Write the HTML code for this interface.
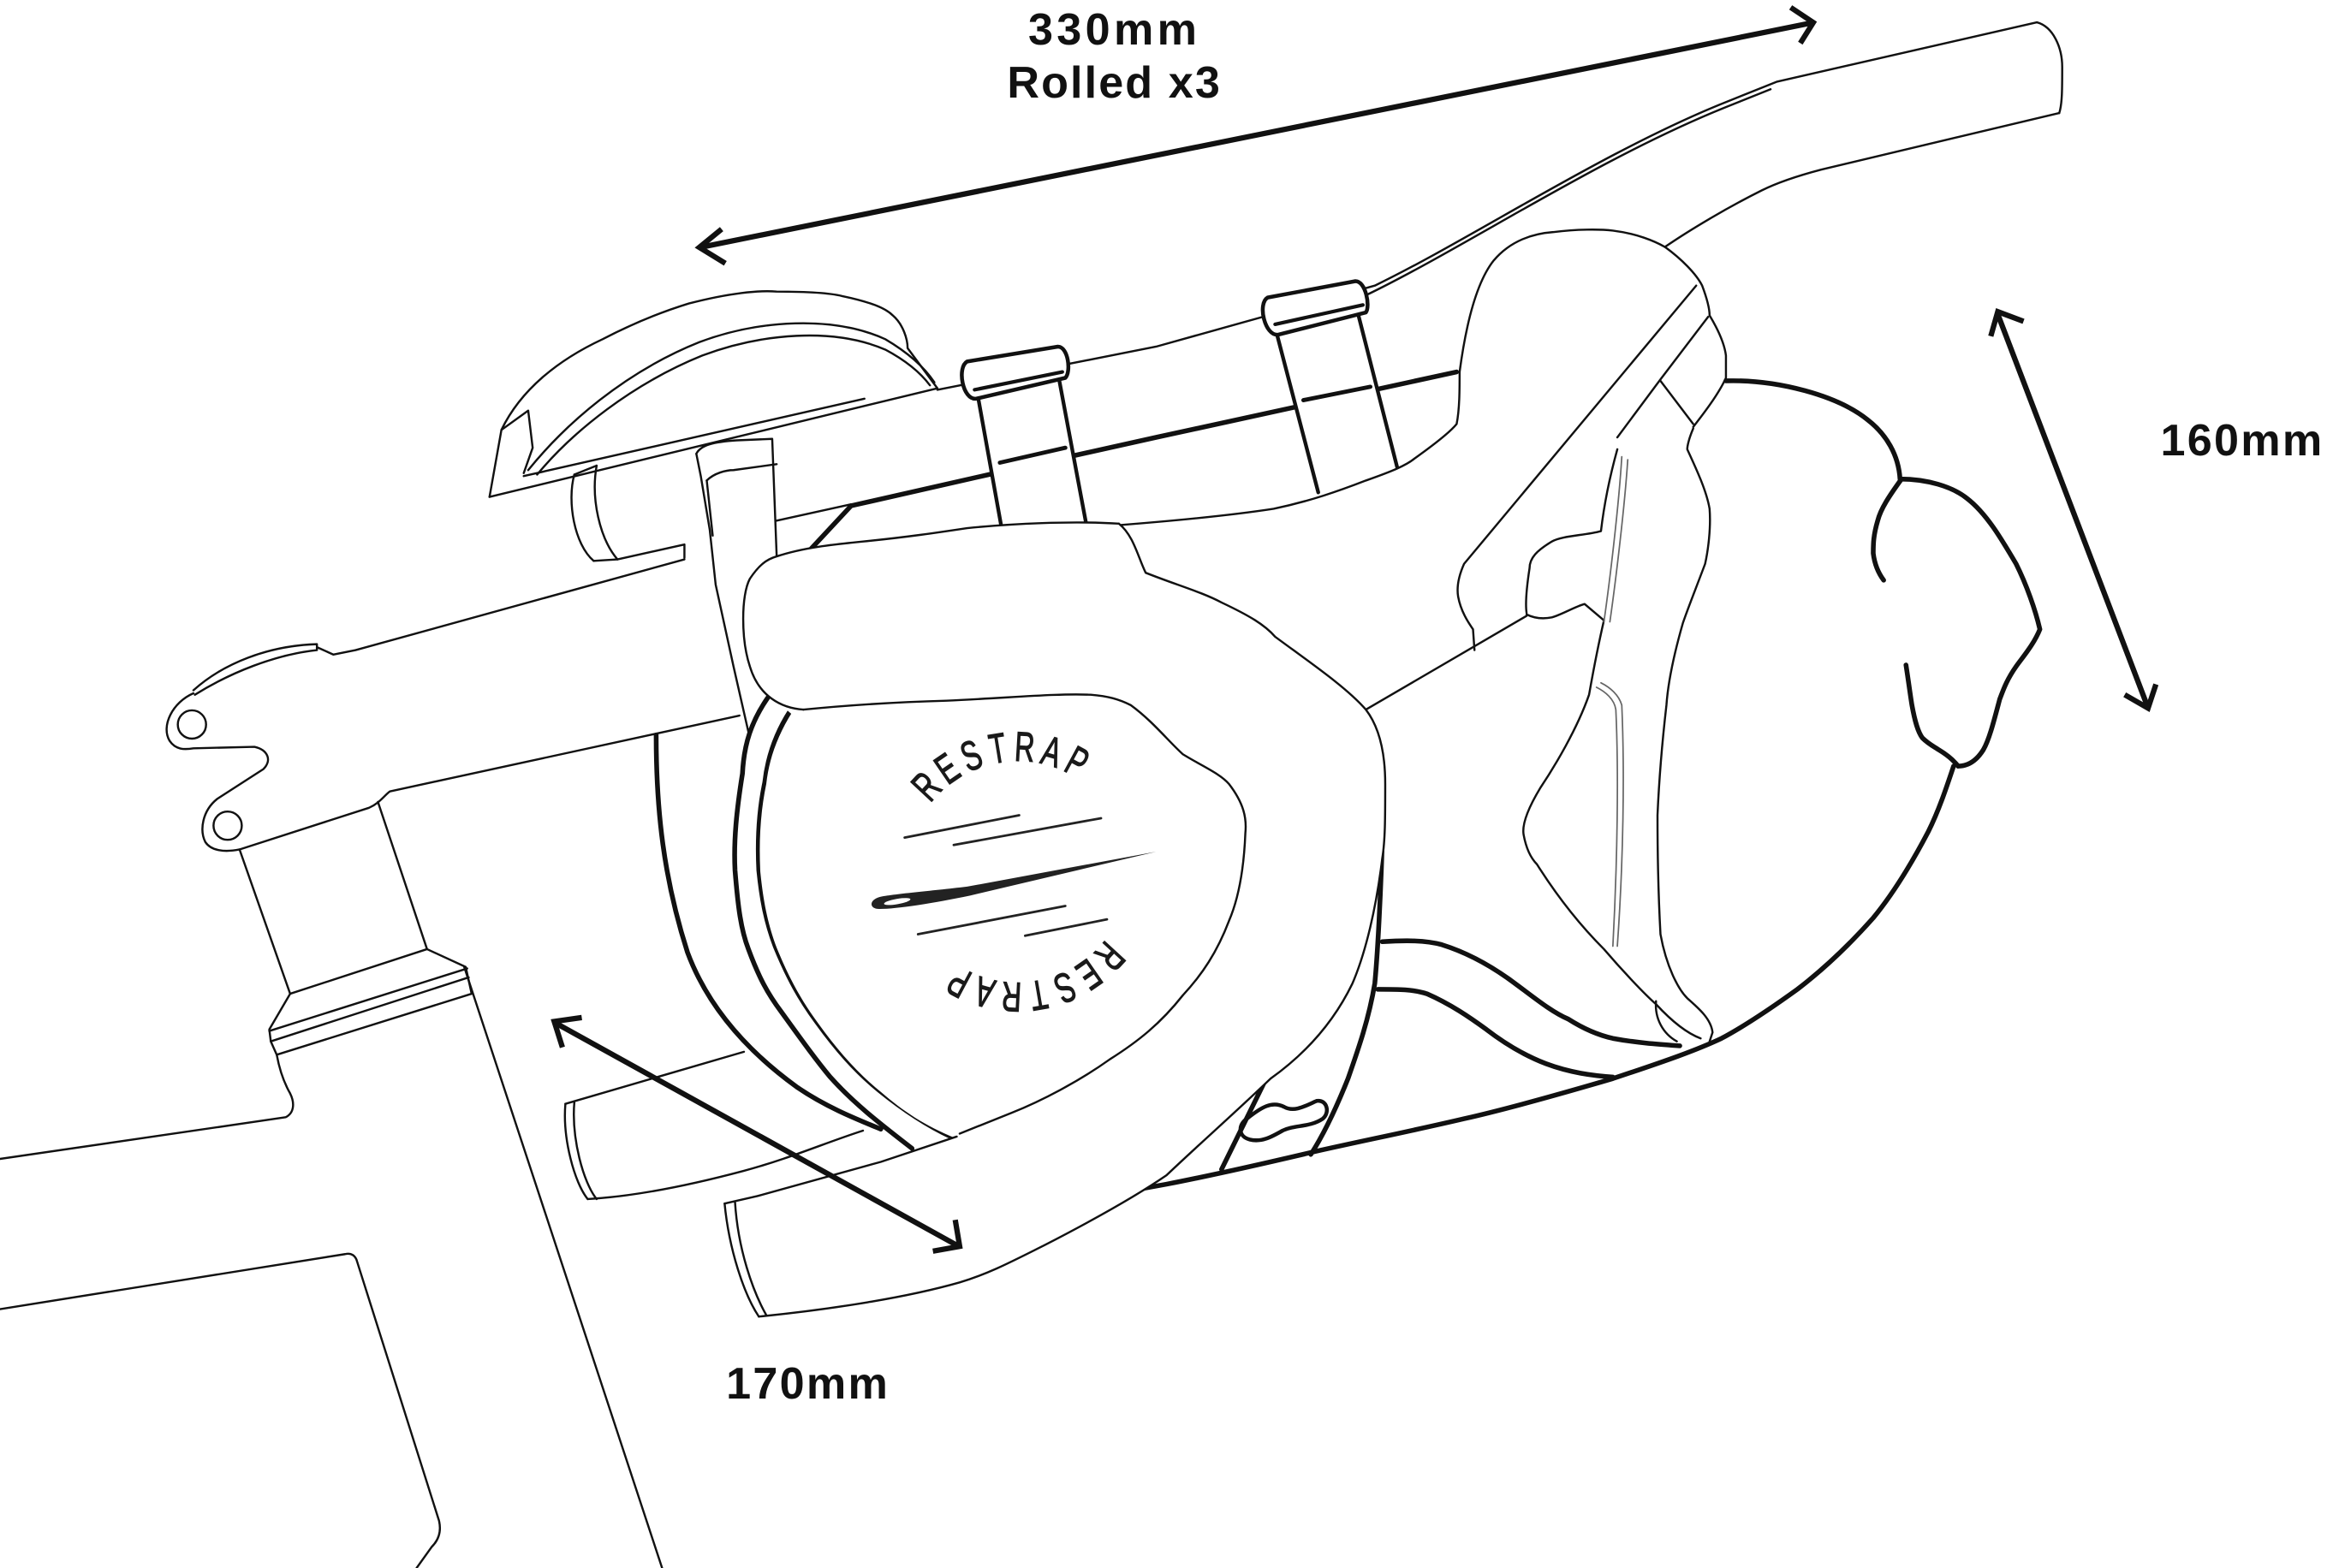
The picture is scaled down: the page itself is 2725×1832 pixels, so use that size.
<!DOCTYPE html>
<html>
<head>
<meta charset="utf-8">
<style>
html,body{margin:0;padding:0;background:#fff;width:2725px;height:1832px;overflow:hidden}
svg{display:block}
</style>
</head>
<body>
<svg width="2725" height="1832" viewBox="0 0 1568 1054" preserveAspectRatio="none" xmlns="http://www.w3.org/2000/svg">
<rect x="0" y="0" width="1568" height="1054" fill="#fff"/>

<g fill="none" stroke="#111" stroke-width="1.4" stroke-linecap="round" stroke-linejoin="round">
  <!-- FRAME -->
  <path d="M0,779 L192,751 C198,748 198,741 195,735 C191,728 188,720 186,709"/>
  <path d="M0,880 L232,843 C236,842 239,844 240,848 L295,1022 C297,1030 294,1036 290,1040 L280,1054"/>
  <path d="M312,650 L445,1054"/>
  <path d="M161,571 L195,668"/>
  <path d="M254,539 L287,638"/>
  <path d="M195,668 L287,638 L313,650 L317,668"/>
  <path d="M195,668 L181,692 L182,700 L186,709"/>
  <path d="M181,693 L314,651"/>
  <path d="M182,700 L315,657"/>
  <path d="M186,709 L317,668"/>

  <!-- STEM -->
  <path d="M130,464 C150,446 180,434 213,433 L213,437 C185,440 155,452 131,467"/>
  <path d="M213,435 L224,440 L239,437 L460,376"/>
  <path d="M130,466 C116,472 108,488 114,498 C118,504 124,504 130,503 L171,502 C180,504 183,511 177,517 L146,537 C136,545 134,558 138,566 C142,572 151,573 161,571 L248,543 C255,540 258,535 262,532 L497,481"/>
  <circle cx="129" cy="487" r="9.5"/>
  <circle cx="153" cy="555" r="9.5"/>

  <!-- LIGHT -->
  <path d="M329,334 L337,289 C350,262 375,242 405,228 C430,215 450,208 463,204 C490,197 510,195 522,196 C545,196 558,197 566,199 C585,203 595,207 600,212 C607,218 610,228 610,234 L630,261"/>
  <path d="M355,316 C380,285 420,250 470,230 C510,215 560,212 595,228 C612,238 622,248 628,257"/>
  <path d="M361,319 C385,290 425,258 472,239 C512,224 560,220 595,235 C610,243 619,251 625,259"/>
  <path d="M337,289 L355,276 L358,301 L352,318"/>
  <path d="M329,334 L630,261"/>
  <path d="M352,320 L581,268"/>

  <!-- HANDLEBAR -->
  <path d="M630,262 L777,233 L924,192 C990,160 1080,100 1164,67 L1194,55 L1369,15"/>
  <path d="M919,198 C985,166 1075,106 1160,72 L1190,60"/>
  <path d="M1369,15 C1380,18 1386,32 1386,45 C1386,60 1386,70 1384,76"/>
  <path d="M1384,76 L1224,114 C1205,119 1192,124 1184,128 C1160,140 1135,155 1119,166"/>
  <path d="M386,319 C381,337 386,366 399,377"/>
  <path d="M386,319 L401,313"/>
  <path d="M401,313 C397,335 403,362 415,376"/>
  <path d="M399,377 L415,376 L460,366 L460,375"/>
  <path d="M522,350 L572,339"/>

  <!-- CLAMP -->
  <path d="M468,305 L471,320 L477,356 L481,393 L493,448 L503,492"/>
  <path d="M468,305 C471,299 480,297 495,296 L519,295 L522,374"/>
  <path d="M475,323 C480,318 488,316 493,316 L522,312"/>
  <path d="M475,323 L479,360"/>

  <!-- bar bottom curve into rear hood -->
  <path d="M752,353 C790,350 830,346 856,342 C880,337 900,330 918,323 C935,317 945,313 951,308 C965,298 975,290 979,285 C981,275 981,262 981,250"/>

  <!-- REAR SHIFTER -->
  <path d="M981,250 C985,220 992,190 1004,175 C1015,162 1030,157 1044,156 C1060,154 1075,154 1084,155 C1100,157 1112,162 1119,166 C1130,174 1140,184 1144,192 C1147,200 1149,207 1149,212 C1155,222 1159,231 1160,239 L1160,254 C1155,265 1145,278 1138,287"/>
  <path d="M1140,192 L984,379 C980,388 979,395 980,401 C982,412 988,420 990,423 L991,437"/>
  <path d="M1148,213 L1116,255 L1087,294"/>
  <path d="M1116,256 L1138,285"/>
  <path d="M1138,288 C1135,295 1134,300 1134,302 C1140,315 1147,330 1149,342 C1150,355 1148,370 1146,379 C1140,395 1134,410 1131,419 C1125,440 1121,460 1120,474 C1117,500 1115,525 1114,548 C1114,580 1115,610 1116,628 C1120,650 1128,665 1134,671 C1142,678 1150,685 1151,694 L1149,700"/>
  <path d="M1113,673 C1112,685 1118,695 1127,700"/>
  <path d="M1087,302 C1082,320 1078,340 1076,357 C1065,360 1050,360 1043,364 C1033,370 1028,375 1028,382 C1026,395 1025,405 1026,412"/>
  <path d="M1026,413 C1032,416 1038,416 1043,415 C1050,413 1058,408 1065,406 L1078,417"/>
  <path d="M918,477 L1026,414"/>
  <path d="M1078,417 C1075,430 1071,450 1068,467 C1060,490 1045,515 1035,530 C1026,545 1023,555 1024,561 C1026,572 1030,578 1033,581 C1045,600 1060,620 1078,638 C1090,652 1105,668 1113,675 C1125,688 1135,695 1143,698"/>
  <g stroke="#666" stroke-width="1">
    <path d="M1094,309 C1092,340 1086,390 1082,418"/>
    <path d="M1090,307 C1088,340 1082,390 1078,418"/>
    <path d="M1076,459 C1082,462 1088,467 1090,474 C1092,520 1091,580 1087,636"/>
    <path d="M1073,462 C1079,465 1085,470 1086,477 C1088,520 1087,580 1084,636"/>
  </g>

  <!-- BAG (thick) -->
  <g stroke-width="3.2">
    <path d="M545,369 L572,340 L669,318 L777,294 L979,250"/>
    <path d="M1160,256 C1195,255 1235,266 1255,282 C1268,292 1276,306 1277,322 C1295,322 1312,327 1322,335 C1335,345 1345,362 1355,379 C1362,393 1368,410 1371,423 C1367,433 1360,441 1355,448 C1348,458 1346,465 1344,470 C1340,485 1337,497 1333,504 C1328,512 1322,515 1316,515"/>
    <path d="M1313,515 C1308,530 1303,545 1296,559 C1285,580 1273,600 1259,617 C1243,635 1225,652 1208,665 C1190,678 1172,690 1157,698 C1140,706 1120,713 1084,725 C1050,735 1015,745 984,752 C950,760 915,767 884,774 C850,782 815,790 784,796 L762,800"/>
    <path d="M1278,322 C1270,333 1264,342 1262,350 C1259,360 1259,366 1259,372 C1260,380 1263,386 1266,390"/>
    <path d="M1281,447 C1283,460 1284,468 1285,474 C1287,485 1289,492 1292,496 C1296,500 1300,502 1303,504 C1308,507 1313,511 1316,515"/>
    <path d="M929,566 C928,600 926,640 924,661 C920,685 913,705 906,725 C898,745 890,762 881,776"/>
    <path d="M929,633 C945,632 958,632 969,635 C985,640 1000,648 1014,658 C1028,668 1042,680 1054,685 C1065,692 1075,696 1084,698 C1100,701 1115,702 1129,703"/>
    <path d="M926,665 C940,665 950,665 959,668 C975,675 988,684 999,692 C1012,702 1026,710 1039,715 C1055,721 1070,723 1084,724"/>
    <path d="M851,725 L821,786"/>
  </g>
  <path stroke-width="2.6" d="M838,752 C848,744 855,740 863,744 C870,748 878,743 885,740 C892,739 894,748 889,752 C880,758 870,756 862,760 C855,764 848,768 840,766 C832,764 832,756 838,752 Z"/>

  <!-- STRAPS -->
  <path fill="#fff" stroke="none" d="M657,265 L712,254 L730,352 L673,354 Z"/>
  <path stroke-width="2.5" d="M657,265 L673,354 M712,256 L730,352"/>
  <path stroke-width="2.8" d="M672,311 L716,301"/>
  <path fill="#fff" stroke-width="2.6" d="M650,243 L711,233 C718,233 720,250 716,254 L656,268 C647,269 643,247 650,243 Z"/>
  <path stroke-width="2.4" d="M655,262 L714,250"/>

  <path fill="#fff" stroke="none" d="M857,222 L914,209 L939,314 L886,331 Z"/>
  <path stroke-width="2.5" d="M857,220 L886,331 M912,208 L939,314"/>
  <path stroke-width="2.8" d="M876,269 L921,260"/>
  <path fill="#fff" stroke-width="2.6" d="M852,200 L911,189 C918,189 921,206 918,210 L859,225 C850,226 845,204 852,200 Z"/>
  <path stroke-width="2.4" d="M857,218 L916,205"/>

  <!-- UPPER DROP -->
  <path d="M380,742 L500,707"/>
  <path d="M395,806 C430,804 470,795 500,787 C530,779 555,768 580,760"/>
  <path d="M380,742 C378,765 386,795 395,806"/>
  <path d="M386,741 C384,765 392,795 401,806"/>

  <!-- ROLL ARCS (thick) -->
  <g stroke-width="3.2">
    <path d="M441,494 C441,545 446,590 462,640 C475,675 500,705 536,731 C555,744 575,752 592,759"/>
    <path d="M516,469 C505,485 500,500 499,520 C495,545 493,565 494,585 C496,610 498,625 503,638 C510,657 516,668 525,680 C538,698 548,712 558,724 C575,743 595,758 613,772"/>
    <path d="M531,478 C522,492 516,508 514,526 C510,545 509,565 510,585 C512,605 515,620 521,636 C530,658 538,672 549,687 C562,705 575,720 591,733 C607,746 622,756 639,764"/>
  </g>

  <!-- FRONT LEVER fill -->
  <path fill="#fff" stroke="none" d="M522,374 C540,368 560,366 580,364 C610,361 630,358 650,355 C680,352 720,350 752,352 C762,360 765,375 770,385 C790,393 808,398 821,405 C840,414 850,420 857,428 C880,445 905,462 918,477 C928,490 931,508 931,527 C931,550 931,565 929,577 C925,610 918,640 909,661 C895,690 875,710 854,725 C830,748 805,770 784,790 C765,803 735,820 702,837 C680,848 665,856 645,862 C610,872 560,880 510,885 C500,870 490,840 487,809 L509,804 L592,781 L642,765 C622,757 607,747 592,734 C576,721 563,706 550,688 C539,673 531,659 522,637 C516,621 513,606 511,586 C510,566 511,546 515,527 C517,509 523,494 532,480 L517,467 C505,460 500,440 500,415 C500,400 505,385 522,374 Z"/>
  <!-- front lever outlines -->
  <path d="M540,477 C525,476 510,468 504,448 C498,430 498,400 504,389 C510,380 515,376 522,374 C540,368 560,366 580,364 C610,361 630,358 650,355 C680,352 720,350 752,352"/>
  <path d="M752,352 C762,360 765,375 770,385 C790,393 808,398 821,405 C840,414 850,420 857,428 C880,445 905,462 918,477 C928,490 931,508 931,527 C931,550 931,565 929,577 C925,610 918,640 909,661 C895,690 875,710 854,725 C830,748 805,770 784,790 C765,803 735,820 702,837 C680,848 665,856 645,862 C610,872 560,880 510,885"/>
  <path d="M540,477 C570,474 600,472 636,471 C680,469 710,466 733,467 C745,468 752,470 760,474 C775,485 785,498 795,507 C808,515 820,520 826,527 C836,540 838,550 837,560 C836,585 832,605 826,619 C818,640 808,655 795,669 C780,688 765,700 746,712 C725,727 700,740 680,748 C665,754 655,758 645,762"/>
  <!-- lower drop -->
  <path d="M510,885 C500,870 490,840 487,809"/>
  <path d="M494,808 C496,840 506,868 515,884"/>
  <path d="M487,809 L509,804 L592,781 L643,764"/>
</g>

<!-- BADGE -->
<g stroke="#222" stroke-width="1.6" stroke-linecap="round" fill="none">
  <path d="M608,563 L685,548"/>
  <path d="M641,568 L740,550"/>
  <path d="M617,628 L716,609"/>
  <path d="M689,629 L744,618"/>
</g>
<path fill="#222" d="M777,572.5 L650,596 C625,599 600,601 591,603 C584,605 584,611 591,611 C603,611 628,607 652,602 Z"/>
<ellipse cx="603" cy="606" rx="9" ry="1.8" fill="#fff" transform="rotate(-10 603 606)"/>

<g font-family="'Liberation Sans',Arial,sans-serif" font-size="28" fill="#1a1a1a" stroke="#1a1a1a" stroke-width="0.7" text-anchor="middle">
  <text transform="translate(629.6 535.1) rotate(-46.9) scale(0.66 1)">R</text>
  <text transform="translate(642.0 524.5) rotate(-34.35) scale(0.66 1)">E</text>
  <text transform="translate(656.4 516.8) rotate(-21.8) scale(0.66 1)">S</text>
  <text transform="translate(672.1 512.5) rotate(-9.25) scale(0.66 1)">T</text>
  <text transform="translate(688.2 511.6) rotate(3.3) scale(0.66 1)">R</text>
  <text transform="translate(704.3 514.4) rotate(15.85) scale(0.66 1)">A</text>
  <text transform="translate(719.4 520.5) rotate(28.4) scale(0.66 1)">P</text>

  <text transform="translate(738.9 636.4) rotate(132.6) scale(0.66 1)">R</text>
  <text transform="translate(726.5 647.2) rotate(145.2) scale(0.66 1)">E</text>
  <text transform="translate(712.3 655.0) rotate(157.7) scale(0.66 1)">S</text>
  <text transform="translate(696.5 659.4) rotate(170.3) scale(0.66 1)">T</text>
  <text transform="translate(680.3 660.4) rotate(182.9) scale(0.66 1)">R</text>
  <text transform="translate(664.2 657.8) rotate(195.4) scale(0.66 1)">A</text>
  <text transform="translate(649.1 651.8) rotate(208.0) scale(0.66 1)">P</text>
</g>

<!-- ARROWS -->
<g fill="none" stroke="#111" stroke-width="3.6" stroke-linecap="butt" stroke-linejoin="miter">
  <path d="M472,166 L1217,15.5"/>
  <path d="M485,154 L470,166.3 L487.5,177"/>
  <path d="M1203.5,5 L1218.7,15.1 L1210,29"/>

  <path d="M1343,212 L1443,474"/>
  <path d="M1338,226 L1342.7,209.5 L1360,216"/>
  <path d="M1449,460 L1443.7,476 L1428,467"/>

  <path d="M374,688 L643,837"/>
  <path d="M378,704 L372.5,686.6 L391,684"/>
  <path d="M627,841 L645,837.8 L642,820"/>
</g>

<!-- LABELS -->
<g font-family="'Liberation Sans',Arial,sans-serif" font-weight="bold" font-size="30" fill="#111" text-anchor="middle">
  <text x="749" y="30" letter-spacing="2.5">330mm</text>
  <text x="749" y="65.5" letter-spacing="1.2">Rolled x3</text>
  <text x="1507" y="306" letter-spacing="1.3">160mm</text>
  <text x="543" y="940" letter-spacing="1.3">170mm</text>
</g>
</svg>
</body>
</html>
